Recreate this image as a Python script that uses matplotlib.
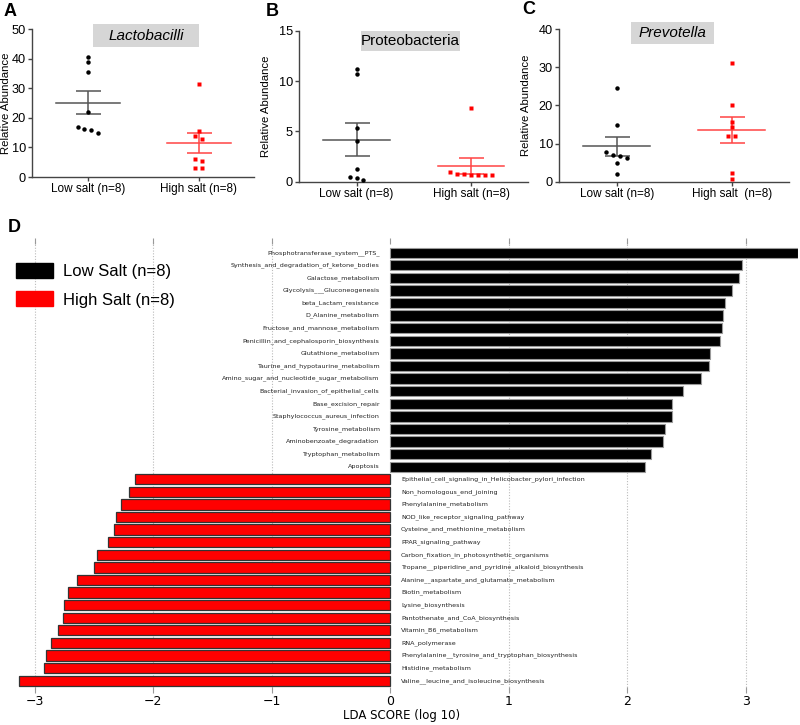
import numpy as np
import matplotlib
matplotlib.use("Agg")
import matplotlib.pyplot as plt
from matplotlib.patches import Rectangle, Patch

# ---- panels A-C: relative abundance per group ----
groups = ["Low salt (n=8)", "High salt (n=8)"]
lacto_low = [40.5, 39.0, 35.7, 22.0, 16.8, 16.3, 16.0, 15.0]
lacto_high = [31.4, 15.5, 13.8, 12.7, 6.2, 5.3, 3.2, 3.2]
proteo_low = [11.2, 10.7, 5.3, 4.1, 1.3, 0.5, 0.35, 0.15]
proteo_high = [7.35, 1.0, 0.75, 0.7, 0.7, 0.65, 0.7, 0.75]
prevo_low = [24.5, 14.9, 7.9, 6.9, 6.8, 6.3, 4.8, 2.0]
prevo_high = [31.2, 20.1, 15.6, 14.2, 12.0, 12.0, 2.4, 0.7]

# ---- panel D: LDA scores ----
low_paths = ["Phosphotransferase_system__PTS_", "Synthesis_and_degradation_of_ketone_bodies",
             "Galactose_metabolism", "Glycolysis___Gluconeogenesis", "beta_Lactam_resistance",
             "D_Alanine_metabolism", "Fructose_and_mannose_metabolism",
             "Penicillin_and_cephalosporin_biosynthesis", "Glutathione_metabolism",
             "Taurine_and_hypotaurine_metabolism", "Amino_sugar_and_nucleotide_sugar_metabolism",
             "Bacterial_invasion_of_epithelial_cells", "Base_excision_repair",
             "Staphylococcus_aureus_infection", "Tyrosine_metabolism",
             "Aminobenzoate_degradation", "Tryptophan_metabolism", "Apoptosis"]
low_lda = [3.44, 2.97, 2.94, 2.88, 2.82, 2.81, 2.80, 2.785, 2.70, 2.69,
           2.62, 2.47, 2.38, 2.375, 2.32, 2.30, 2.20, 2.15]
high_paths = ["Epithelial_cell_signaling_in_Helicobacter_pylori_infection",
              "Non_homologous_end_joining", "Phenylalanine_metabolism",
              "NOD_like_receptor_signaling_pathway", "Cysteine_and_methionine_metabolism",
              "PPAR_signaling_pathway", "Carbon_fixation_in_photosynthetic_organisms",
              "Tropane__piperidine_and_pyridine_alkaloid_biosynthesis",
              "Alanine__aspartate_and_glutamate_metabolism", "Biotin_metabolism",
              "Lysine_biosynthesis", "Pantothenate_and_CoA_biosynthesis",
              "Vitamin_B6_metabolism", "RNA_polymerase",
              "Phenylalanine__tyrosine_and_tryptophan_biosynthesis",
              "Histidine_metabolism", "Valine__leucine_and_isoleucine_biosynthesis"]
high_lda = [-2.15, -2.205, -2.27, -2.31, -2.33, -2.38, -2.47, -2.50, -2.64,
            -2.72, -2.75, -2.76, -2.80, -2.86, -2.90, -2.92, -3.13]

W, H = 800, 725
fig = plt.figure(figsize=(8, 7.25), dpi=100)
sans = ["Liberation Sans", "DejaVu Sans"]


def spread(vals, span):
    # put near-equal values side by side, like a prism scatter plot
    vals = np.asarray(vals, float)
    order = np.argsort(-vals)
    offs = np.zeros(len(vals))
    thr = 0.03 * span
    i = 0
    while i < len(order):
        j = i + 1
        while j < len(order) and vals[order[j - 1]] - vals[order[j]] < thr:
            j += 1
        n = j - i
        for k in range(n):
            offs[order[i + k]] = (k - (n - 1) / 2) * 0.06
        i = j
    return offs


def scatter_panel(rect, low, high, ymax, yticks, title, italic, box, letter, xlabels, ylab_x):
    ax = fig.add_axes(rect)
    for x, vals, col, lcol, mk, ms in [(0, low, "black", "#555555", "o", 3.2),
                                       (1, high, "#ff0000", "#ff4444", "s", 3.4)]:
        vals = np.asarray(vals)
        offs = spread(vals, ymax)
        ax.plot(x + offs, vals, mk, color=col, ms=ms, mec="none", zorder=3, clip_on=False)
        m = vals.mean()
        sem = vals.std(ddof=1) / np.sqrt(len(vals))
        ax.plot([x - 0.29, x + 0.29], [m, m], color=lcol, lw=1.1, zorder=2)
        ax.errorbar(x, m, yerr=sem, color=lcol, lw=1.1, capsize=9, capthick=1.1, zorder=2)
    ax.set_xlim(-0.5, 1.5)
    ax.set_ylim(0, ymax)
    ax.set_yticks(yticks)
    ax.set_xticks([0, 1])
    ax.set_xticklabels(xlabels, fontsize=8.5, family=sans)
    for lab in ax.get_yticklabels():
        lab.set_fontsize(9.2)
        lab.set_family(sans)
    ax.set_ylabel("Relative Abundance", fontsize=8.2, family=sans)
    ax.yaxis.set_label_coords(ylab_x, 0.5)
    for s in ["top", "right"]:
        ax.spines[s].set_visible(False)
    for s in ["left", "bottom"]:
        ax.spines[s].set_color("#444444")
        ax.spines[s].set_linewidth(1.0)
    ax.tick_params(length=3, width=1, color="#444444", pad=1.5)
    x0, x1, y0, y1 = box
    ax.add_patch(Rectangle((x0, y0), x1 - x0, y1 - y0, transform=ax.transAxes,
                           facecolor="#d6d6d6", edgecolor="none", clip_on=False, zorder=1))
    ax.text((x0 + x1) / 2, (y0 + y1) / 2, title, transform=ax.transAxes, ha="center",
            va="center", fontsize=11, family=sans, style="italic" if italic else "normal")
    ax.text(letter[0] / W, 1 - letter[1] / H, letter[2], transform=fig.transFigure,
            fontsize=13, fontweight="bold", family=sans, ha="left", va="center")
    return ax


scatter_panel([32.3 / W, 1 - 177 / H, 222 / W, 147.7 / H], lacto_low, lacto_high, 50,
              [0, 10, 20, 30, 40, 50], "Lactobacilli", True, (0.273, 0.751, 0.88, 1.036),
              (4, 12, "A"), groups, -0.098)
scatter_panel([299.3 / W, 1 - 181.7 / H, 229 / W, 150.7 / H], proteo_low, proteo_high, 15,
              [0, 5, 10, 15], "Proteobacteria", False, (0.27, 0.70, 0.865, 1.0),
              (266, 12, "B"), groups, -0.125)
scatter_panel([559.3 / W, 1 - 181.7 / H, 230 / W, 152.7 / H], prevo_low, prevo_high, 40,
              [0, 10, 20, 30, 40], "Prevotella", True, (0.31, 0.671, 0.904, 1.046),
              (522, 10, "C"), ["Low salt (n=8)", "High salt  (n=8)"], -0.125)

# ---- panel D ----
axd = fig.add_axes([5 / W, 1 - 690 / H, 793 / W, 449 / H])
names = low_paths + high_paths
scores = low_lda + high_lda
ypos = np.arange(len(names))
for y, name, sc in zip(ypos, names, scores):
    if sc > 0:
        axd.barh(y, sc, height=0.82, color="black", edgecolor="#9a9a9a", lw=0.8, zorder=2)
        axd.text(-0.09, y, name, ha="right", va="center", fontsize=4.6, color="#222222")
    else:
        axd.barh(y, sc, height=0.82, color="#ff0000", edgecolor="#333333", lw=0.9, zorder=2)
        axd.text(0.09, y, name, ha="left", va="center", fontsize=4.6, color="#222222")
axd.set_xlim(-3.25, 3.44)
axd.set_ylim(34.74, -0.93)
axd.set_xticks([-3, -2, -1, 0, 1, 2, 3])
axd.set_yticks([])
for v in [-3, -2, -1, 1, 2, 3]:
    axd.axvline(v, color="#bbbbbb", ls=(0, (1, 1.5)), lw=0.8, zorder=1)
for s in axd.spines.values():
    s.set_visible(False)
axd.tick_params(axis="x", top=True, direction="inout", length=5, color="#999999",
                labelsize=9, pad=1)
axd.set_xlabel("LDA SCORE (log 10)", fontsize=8.5, labelpad=1)
leg = axd.legend(handles=[Patch(color="black"), Patch(color="#ff0000")],
                 labels=["Low Salt (n=8)", "High Salt (n=8)"], loc="upper left",
                 bbox_to_anchor=(-0.005, 0.985), frameon=False, handlelength=2.2,
                 handleheight=1.0, labelspacing=0.75, handletextpad=0.6,
                 prop={"family": sans, "size": 12})
fig.text(8 / W, 1 - 228 / H, "D", fontsize=13, fontweight="bold", family=sans,
         ha="left", va="center")

fig.savefig("out.png", dpi=100)
